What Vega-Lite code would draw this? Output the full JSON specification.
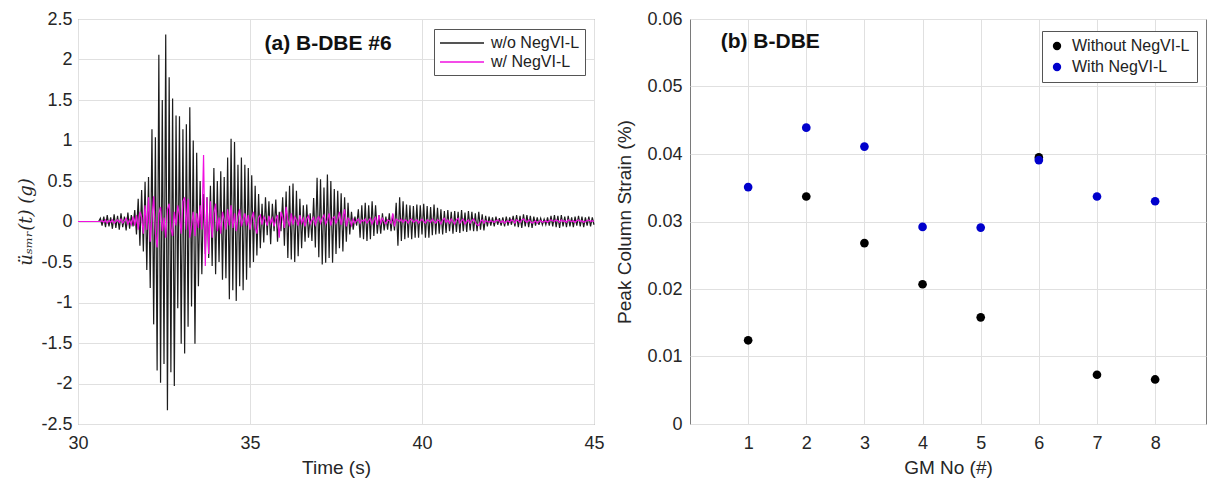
{
"$schema":"https://vega.github.io/schema/vega-lite/v6.json",
"padding":{"left":17,"top":9,"right":0,"bottom":0},
"background":"white",
"spacing":10,
"resolve":{"scale":{"color":"independent"},"legend":{"color":"independent"}},
"config":{
 "font":"Liberation Sans",
 "view":{"stroke":"#7a7a7a","strokeWidth":1},
 "axis":{"domain":false,"ticks":false,"grid":true,"labelFlush":false,"gridColor":"#e0e0e0","labelFont":"Liberation Sans","labelFontSize":18,"labelColor":"#262626","titleFont":"Liberation Sans","titleFontSize":19,"titleFontWeight":"normal","titleColor":"#262626"}
},
"datasets":{
"ts":[
{"t":30.00,"b":0,"m":0},{"t":30.60,"b":0,"m":0},
{"t":30.65,"b":0.04,"m":0},{"t":30.70,"b":-0.05,"m":0.01},{"t":30.75,"b":0.06,"m":-0.01},{"t":30.80,"b":-0.07,"m":0.02},
{"t":30.85,"b":0.08,"m":-0.02},{"t":30.90,"b":-0.06,"m":0.01},{"t":30.95,"b":0.05,"m":-0.01},{"t":31.00,"b":-0.09,"m":0.02},
{"t":31.05,"b":0.09,"m":-0.02},{"t":31.10,"b":-0.08,"m":0},{"t":31.15,"b":0.07,"m":0.02},{"t":31.20,"b":-0.10,"m":-0.01},
{"t":31.25,"b":0.10,"m":0.03},{"t":31.30,"b":-0.07,"m":-0.02},{"t":31.35,"b":0.06,"m":0.01},{"t":31.40,"b":-0.11,"m":0.04},
{"t":31.45,"b":0.11,"m":-0.03},{"t":31.50,"b":-0.09,"m":0.02},{"t":31.55,"b":0.08,"m":-0.04},{"t":31.60,"b":-0.06,"m":0.06},
{"t":31.65,"b":0.14,"m":-0.05},{"t":31.70,"b":-0.16,"m":0.08},{"t":31.75,"b":0.28,"m":-0.10},{"t":31.80,"b":-0.30,"m":0.12},
{"t":31.85,"b":0.39,"m":0.05},{"t":31.90,"b":-0.37,"m":-0.15},{"t":31.95,"b":0.49,"m":0.20},{"t":32.00,"b":-0.60,"m":-0.10},
{"t":32.05,"b":0.55,"m":0.30},{"t":32.10,"b":-0.82,"m":-0.25},{"t":32.15,"b":1.14,"m":0.05},{"t":32.20,"b":-1.27,"m":0.31},
{"t":32.25,"b":1.04,"m":-0.15},{"t":32.30,"b":-1.84,"m":-0.32},{"t":32.35,"b":2.06,"m":0.10},{"t":32.40,"b":-1.99,"m":0.18},
{"t":32.45,"b":1.50,"m":-0.12},{"t":32.50,"b":-1.76,"m":0.05},{"t":32.55,"b":2.31,"m":-0.20},{"t":32.60,"b":-2.33,"m":0.15},
{"t":32.65,"b":1.78,"m":0.22},{"t":32.70,"b":-1.86,"m":-0.08},{"t":32.75,"b":1.52,"m":-0.18},{"t":32.80,"b":-2.03,"m":0.12},
{"t":32.85,"b":1.31,"m":-0.05},{"t":32.90,"b":-1.07,"m":0.20},{"t":32.95,"b":1.30,"m":0.08},{"t":33.00,"b":-1.51,"m":-0.15},
{"t":33.05,"b":1.14,"m":0.25},{"t":33.10,"b":-1.63,"m":0.30},{"t":33.15,"b":1.20,"m":-0.10},{"t":33.20,"b":-1.30,"m":0.28},
{"t":33.25,"b":1.41,"m":-0.20},{"t":33.30,"b":-1.05,"m":-0.05},{"t":33.35,"b":1.00,"m":0.12},{"t":33.40,"b":-1.51,"m":-0.18},
{"t":33.45,"b":0.85,"m":0.10},{"t":33.50,"b":-0.80,"m":-0.08},{"t":33.55,"b":0.50,"m":0.20},{"t":33.60,"b":-0.65,"m":-0.10},
{"t":33.65,"b":0.34,"m":0.82},{"t":33.70,"b":-0.40,"m":-0.55},{"t":33.75,"b":0.30,"m":0.30},{"t":33.80,"b":-0.45,"m":-0.40},
{"t":33.85,"b":0.44,"m":0.25},{"t":33.90,"b":-0.55,"m":-0.20},{"t":33.95,"b":0.66,"m":0.10},{"t":34.00,"b":-0.65,"m":0.22},
{"t":34.05,"b":0.50,"m":-0.12},{"t":34.10,"b":-0.50,"m":0.05},{"t":34.15,"b":0.62,"m":-0.15},{"t":34.20,"b":-0.72,"m":0.12},
{"t":34.25,"b":0.55,"m":0.02},{"t":34.30,"b":-0.70,"m":-0.10},{"t":34.35,"b":0.79,"m":0.15},{"t":34.40,"b":-0.96,"m":-0.05},
{"t":34.45,"b":1.02,"m":0.20},{"t":34.50,"b":-0.85,"m":-0.08},{"t":34.55,"b":0.98,"m":0.10},{"t":34.60,"b":-0.98,"m":-0.12},
{"t":34.65,"b":0.70,"m":0.06},{"t":34.70,"b":-0.80,"m":0.15},{"t":34.75,"b":0.79,"m":-0.06},{"t":34.80,"b":-0.85,"m":0.03},
{"t":34.85,"b":0.70,"m":0.10},{"t":34.90,"b":-0.72,"m":-0.05},{"t":34.95,"b":0.66,"m":0.08},{"t":35.00,"b":-0.57,"m":-0.10},
{"t":35.05,"b":0.57,"m":0.04},{"t":35.10,"b":-0.50,"m":0.12},{"t":35.15,"b":0.44,"m":-0.08},{"t":35.20,"b":-0.42,"m":-0.15},
{"t":35.25,"b":0.34,"m":0.05},{"t":35.30,"b":-0.33,"m":0.08},{"t":35.35,"b":0.22,"m":-0.04},{"t":35.40,"b":-0.26,"m":0.06},
{"t":35.45,"b":0.30,"m":0.02},{"t":35.50,"b":-0.17,"m":-0.05},{"t":35.55,"b":0.25,"m":0.07},{"t":35.60,"b":-0.28,"m":-0.02},
{"t":35.65,"b":0.22,"m":0.04},{"t":35.70,"b":-0.12,"m":-0.06},{"t":35.75,"b":0.27,"m":0.03},{"t":35.80,"b":-0.25,"m":0.08},
{"t":35.85,"b":0.12,"m":-0.20},{"t":35.90,"b":-0.12,"m":0.12},{"t":35.95,"b":0.30,"m":0.05},{"t":36.00,"b":-0.30,"m":-0.08},
{"t":36.05,"b":0.37,"m":0.18},{"t":36.10,"b":-0.45,"m":0.02},{"t":36.15,"b":0.44,"m":-0.06},{"t":36.20,"b":-0.47,"m":0.10},
{"t":36.25,"b":0.47,"m":-0.04},{"t":36.30,"b":-0.50,"m":0.06},{"t":36.35,"b":0.38,"m":0.02},{"t":36.40,"b":-0.43,"m":-0.05},
{"t":36.45,"b":0.28,"m":0.08},{"t":36.50,"b":-0.33,"m":-0.02},{"t":36.55,"b":0.20,"m":0.04},{"t":36.60,"b":-0.25,"m":-0.06},
{"t":36.65,"b":0.21,"m":0.03},{"t":36.70,"b":-0.20,"m":0.07},{"t":36.75,"b":0.10,"m":-0.03},{"t":36.80,"b":-0.24,"m":0.02},
{"t":36.85,"b":0.29,"m":0.05},{"t":36.90,"b":-0.32,"m":-0.04},{"t":36.95,"b":0.54,"m":0.03},{"t":37.00,"b":-0.44,"m":0.06},
{"t":37.05,"b":0.52,"m":-0.02},{"t":37.10,"b":-0.53,"m":0.04},{"t":37.15,"b":0.42,"m":0.08},{"t":37.20,"b":-0.51,"m":-0.03},
{"t":37.25,"b":0.58,"m":0.02},{"t":37.30,"b":-0.45,"m":0.10},{"t":37.35,"b":0.50,"m":-0.05},{"t":37.40,"b":-0.51,"m":0.04},
{"t":37.45,"b":0.40,"m":0.06},{"t":37.50,"b":-0.40,"m":-0.02},{"t":37.55,"b":0.38,"m":0.03},{"t":37.60,"b":-0.33,"m":0.12},
{"t":37.65,"b":0.35,"m":-0.04},{"t":37.70,"b":-0.37,"m":0.05},{"t":37.75,"b":0.30,"m":0.15},{"t":37.80,"b":-0.25,"m":-0.06},
{"t":37.85,"b":0.23,"m":0.04},{"t":37.90,"b":-0.16,"m":0.02},{"t":37.95,"b":0.12,"m":-0.05},{"t":38.00,"b":-0.10,"m":0.03},
{"t":38.05,"b":0.06,"m":-0.02},{"t":38.10,"b":-0.05,"m":0.01},{"t":38.15,"b":0.15,"m":0.03},{"t":38.20,"b":-0.20,"m":-0.02},
{"t":38.25,"b":0.20,"m":0.02},{"t":38.30,"b":-0.22,"m":0},{"t":38.35,"b":0.23,"m":0.03},{"t":38.40,"b":-0.24,"m":-0.02},
{"t":38.45,"b":0.20,"m":0.01},{"t":38.50,"b":-0.22,"m":0.04},{"t":38.55,"b":0.25,"m":-0.03},{"t":38.60,"b":-0.18,"m":0.02},
{"t":38.65,"b":0.20,"m":0.05},{"t":38.70,"b":-0.15,"m":-0.04},{"t":38.75,"b":0.08,"m":0.08},{"t":38.80,"b":-0.15,"m":-0.02},
{"t":38.85,"b":0.10,"m":0.04},{"t":38.90,"b":-0.11,"m":0},{"t":38.95,"b":0.06,"m":-0.03},{"t":39.00,"b":-0.10,"m":0.02},
{"t":39.05,"b":0.10,"m":0.01},{"t":39.10,"b":-0.12,"m":-0.02},{"t":39.15,"b":0.09,"m":0.10},{"t":39.20,"b":-0.11,"m":-0.06},
{"t":39.25,"b":0.23,"m":0.03},{"t":39.30,"b":-0.30,"m":0.02},{"t":39.35,"b":0.30,"m":0},{"t":39.40,"b":-0.24,"m":0.03},
{"t":39.45,"b":0.25,"m":-0.01},{"t":39.50,"b":-0.22,"m":0.02},{"t":39.55,"b":0.21,"m":0.01},{"t":39.60,"b":-0.20,"m":-0.02},
{"t":39.65,"b":0.20,"m":0.02},{"t":39.70,"b":-0.22,"m":0.03},{"t":39.75,"b":0.19,"m":-0.01},{"t":39.80,"b":-0.20,"m":0.01},
{"t":39.85,"b":0.21,"m":0.02},{"t":39.90,"b":-0.20,"m":-0.02},{"t":39.95,"b":0.20,"m":0.01},{"t":40.00,"b":-0.16,"m":0.03},
{"t":40.05,"b":0.22,"m":0},{"t":40.10,"b":-0.20,"m":-0.02},{"t":40.15,"b":0.19,"m":0.02},{"t":40.20,"b":-0.20,"m":0.01},
{"t":40.25,"b":0.18,"m":-0.01},{"t":40.30,"b":-0.17,"m":0.03},{"t":40.35,"b":0.21,"m":0},{"t":40.40,"b":-0.16,"m":-0.02},
{"t":40.45,"b":0.17,"m":0.02},{"t":40.50,"b":-0.15,"m":0.01},{"t":40.55,"b":0.15,"m":-0.03},{"t":40.60,"b":-0.16,"m":0.02},
{"t":40.65,"b":0.13,"m":0.04},{"t":40.70,"b":-0.14,"m":-0.01},{"t":40.75,"b":0.14,"m":0.02},{"t":40.80,"b":-0.12,"m":-0.02},
{"t":40.85,"b":0.12,"m":0.03},{"t":40.90,"b":-0.15,"m":0},{"t":40.95,"b":0.13,"m":-0.03},{"t":41.00,"b":-0.13,"m":0.02},
{"t":41.05,"b":0.12,"m":0.04},{"t":41.10,"b":-0.14,"m":-0.02},{"t":41.15,"b":0.14,"m":0.01},{"t":41.20,"b":-0.12,"m":0.03},
{"t":41.25,"b":0.11,"m":-0.03},{"t":41.30,"b":-0.13,"m":0},{"t":41.35,"b":0.13,"m":0.02},{"t":41.40,"b":-0.11,"m":-0.02},
{"t":41.45,"b":0.12,"m":0.01},{"t":41.50,"b":-0.12,"m":0.03},{"t":41.55,"b":0.10,"m":-0.01},{"t":41.60,"b":-0.12,"m":-0.04},
{"t":41.65,"b":0.12,"m":-0.05},{"t":41.70,"b":-0.10,"m":0},{"t":41.75,"b":0.09,"m":0.02},{"t":41.80,"b":-0.11,"m":-0.02},
{"t":41.85,"b":0.07,"m":0.01},{"t":41.90,"b":-0.06,"m":0},{"t":41.95,"b":0.06,"m":-0.01},{"t":42.00,"b":-0.05,"m":0.01},
{"t":42.05,"b":0.05,"m":0},{"t":42.10,"b":-0.06,"m":-0.01},{"t":42.15,"b":0.06,"m":0.01},{"t":42.20,"b":-0.04,"m":0.02},
{"t":42.25,"b":0.04,"m":0},{"t":42.30,"b":-0.05,"m":-0.01},{"t":42.35,"b":0.05,"m":0.01},{"t":42.40,"b":-0.06,"m":-0.02},
{"t":42.45,"b":0.06,"m":0},{"t":42.50,"b":-0.05,"m":0.01},{"t":42.55,"b":0.05,"m":-0.01},{"t":42.60,"b":-0.04,"m":0.02},
{"t":42.65,"b":0.07,"m":0.01},{"t":42.70,"b":-0.06,"m":-0.02},{"t":42.75,"b":0.08,"m":0.02},{"t":42.80,"b":-0.07,"m":0.01},
{"t":42.85,"b":0.07,"m":-0.01},{"t":42.90,"b":-0.08,"m":0.02},{"t":42.95,"b":0.09,"m":0.03},{"t":43.00,"b":-0.06,"m":0.01},
{"t":43.05,"b":0.08,"m":-0.01},{"t":43.10,"b":-0.07,"m":0.02},{"t":43.15,"b":0.07,"m":0},{"t":43.20,"b":-0.08,"m":-0.02},
{"t":43.25,"b":0.06,"m":-0.01},{"t":43.30,"b":-0.05,"m":0.01},{"t":43.35,"b":0.05,"m":-0.02},{"t":43.40,"b":-0.04,"m":0},
{"t":43.45,"b":0.04,"m":0.01},{"t":43.50,"b":-0.04,"m":-0.01},{"t":43.55,"b":0.03,"m":0},{"t":43.60,"b":-0.04,"m":0.01},
{"t":43.65,"b":0.05,"m":-0.01},{"t":43.70,"b":-0.05,"m":0.01},{"t":43.75,"b":0.07,"m":0.02},{"t":43.80,"b":-0.06,"m":0.01},
{"t":43.85,"b":0.08,"m":0},{"t":43.90,"b":-0.07,"m":0.02},{"t":43.95,"b":0.07,"m":0.01},{"t":44.00,"b":-0.08,"m":-0.01},
{"t":44.05,"b":0.08,"m":0.02},{"t":44.10,"b":-0.06,"m":0},{"t":44.15,"b":0.06,"m":0.01},{"t":44.20,"b":-0.07,"m":-0.01},
{"t":44.25,"b":0.07,"m":0.02},{"t":44.30,"b":-0.06,"m":0.01},{"t":44.35,"b":0.05,"m":0},{"t":44.40,"b":-0.07,"m":0.01},
{"t":44.45,"b":0.06,"m":-0.01},{"t":44.50,"b":-0.05,"m":0.01},{"t":44.55,"b":0.07,"m":0.02},{"t":44.60,"b":-0.06,"m":0},
{"t":44.65,"b":0.06,"m":0.01},{"t":44.70,"b":-0.07,"m":-0.01},{"t":44.75,"b":0.05,"m":0},{"t":44.80,"b":-0.05,"m":0.01},
{"t":44.85,"b":0.06,"m":0.02},{"t":44.90,"b":-0.06,"m":0},{"t":44.95,"b":0.05,"m":0.01},{"t":45.00,"b":-0.04,"m":0}
],
"pk":[
{"gm":1,"series":"Without NegVI-L","v":0.0124},{"gm":2,"series":"Without NegVI-L","v":0.0337},{"gm":3,"series":"Without NegVI-L","v":0.0268},{"gm":4,"series":"Without NegVI-L","v":0.0207},
{"gm":5,"series":"Without NegVI-L","v":0.0158},{"gm":6,"series":"Without NegVI-L","v":0.0395},{"gm":7,"series":"Without NegVI-L","v":0.0073},{"gm":8,"series":"Without NegVI-L","v":0.0066},
{"gm":1,"series":"With NegVI-L","v":0.0351},{"gm":2,"series":"With NegVI-L","v":0.0439},{"gm":3,"series":"With NegVI-L","v":0.0411},{"gm":4,"series":"With NegVI-L","v":0.0292},
{"gm":5,"series":"With NegVI-L","v":0.0291},{"gm":6,"series":"With NegVI-L","v":0.0391},{"gm":7,"series":"With NegVI-L","v":0.0337},{"gm":8,"series":"With NegVI-L","v":0.0330}
]
},
"hconcat":[
{
 "width":516,"height":405,
 "layer":[
  {"data":{"name":"ts"},
   "mark":{"type":"line","strokeWidth":1.2},
   "encoding":{
    "x":{"field":"t","type":"quantitative","scale":{"domain":[30,45],"nice":false,"zero":false},"axis":{"values":[30,35,40,45],"format":"d","title":"Time (s)","labelPadding":10,"titlePadding":6}},
    "y":{"field":"b","type":"quantitative","scale":{"domain":[-2.5,2.5],"nice":false},"axis":{"values":[-2.5,-2,-1.5,-1,-0.5,0,0.5,1,1.5,2,2.5],"format":"~g","labelExpr":"replace(datum.label,'−','-')","title":"üₛₘᵣ(t)  (g)","titleFont":"DejaVu Serif","titleFontStyle":"italic","titleFontSize":18,"labelPadding":6,"titlePadding":5}},
    "color":{"datum":"w/o NegVI-L","type":"nominal","scale":{"domain":["w/o NegVI-L","w/ NegVI-L"],"range":["#1c1c1c","#f010e0"]},
      "legend":{"title":null,"orient":"none","legendX":356,"legendY":10,"symbolType":"M-2.75,0H2.75","symbolSize":256,"symbolStrokeWidth":1.3,"symbolOffset":14,"labelOffset":20,"labelFontSize":16,"labelFont":"Liberation Sans","labelColor":"#222","strokeColor":"#555","fillColor":"#ffffff","padding":5,"rowPadding":2}}
   }},
  {"data":{"name":"ts"},
   "mark":{"type":"line","strokeWidth":1.2},
   "encoding":{
    "x":{"field":"t","type":"quantitative"},
    "y":{"field":"m","type":"quantitative"},
    "color":{"datum":"w/ NegVI-L","type":"nominal"}
   }},
  {"data":{"values":[{"label":"(a) B-DBE #6"}]},
   "mark":{"type":"text","font":"Liberation Sans","fontWeight":"bold","fontSize":21,"color":"#111"},
   "encoding":{"x":{"datum":37.27},"y":{"datum":2.19},"text":{"field":"label"}}}
 ]
},
{
 "width":516,"height":405,
 "layer":[
  {"data":{"name":"pk"},
   "mark":{"type":"point","filled":true,"size":75,"opacity":1},
   "encoding":{
    "x":{"field":"gm","type":"quantitative","scale":{"domain":[0,8.875],"nice":false},"axis":{"values":[1,2,3,4,5,6,7,8],"format":"d","title":"GM No (#)","labelPadding":10,"titlePadding":6}},
    "y":{"field":"v","type":"quantitative","scale":{"domain":[0,0.06],"nice":false},"axis":{"values":[0,0.01,0.02,0.03,0.04,0.05,0.06],"format":"~g","title":"Peak Column Strain (%)","labelPadding":8,"titlePadding":12}},
    "color":{"field":"series","type":"nominal","scale":{"domain":["Without NegVI-L","With NegVI-L"],"range":["#000000","#0000cc"]},
      "legend":{"title":null,"orient":"none","legendX":352,"legendY":12,"symbolType":"circle","symbolSize":70,"labelOffset":7,"labelFontSize":16,"labelFont":"Liberation Sans","labelColor":"#222","strokeColor":"#555","fillColor":"#ffffff","padding":7,"rowPadding":5}}
   }},
  {"data":{"values":[{"label":"(b) B-DBE"}]},
   "mark":{"type":"text","font":"Liberation Sans","fontWeight":"bold","fontSize":21,"color":"#111"},
   "encoding":{"x":{"datum":1.38},"y":{"datum":0.0566},"text":{"field":"label"}}}
 ]
}
]
}
